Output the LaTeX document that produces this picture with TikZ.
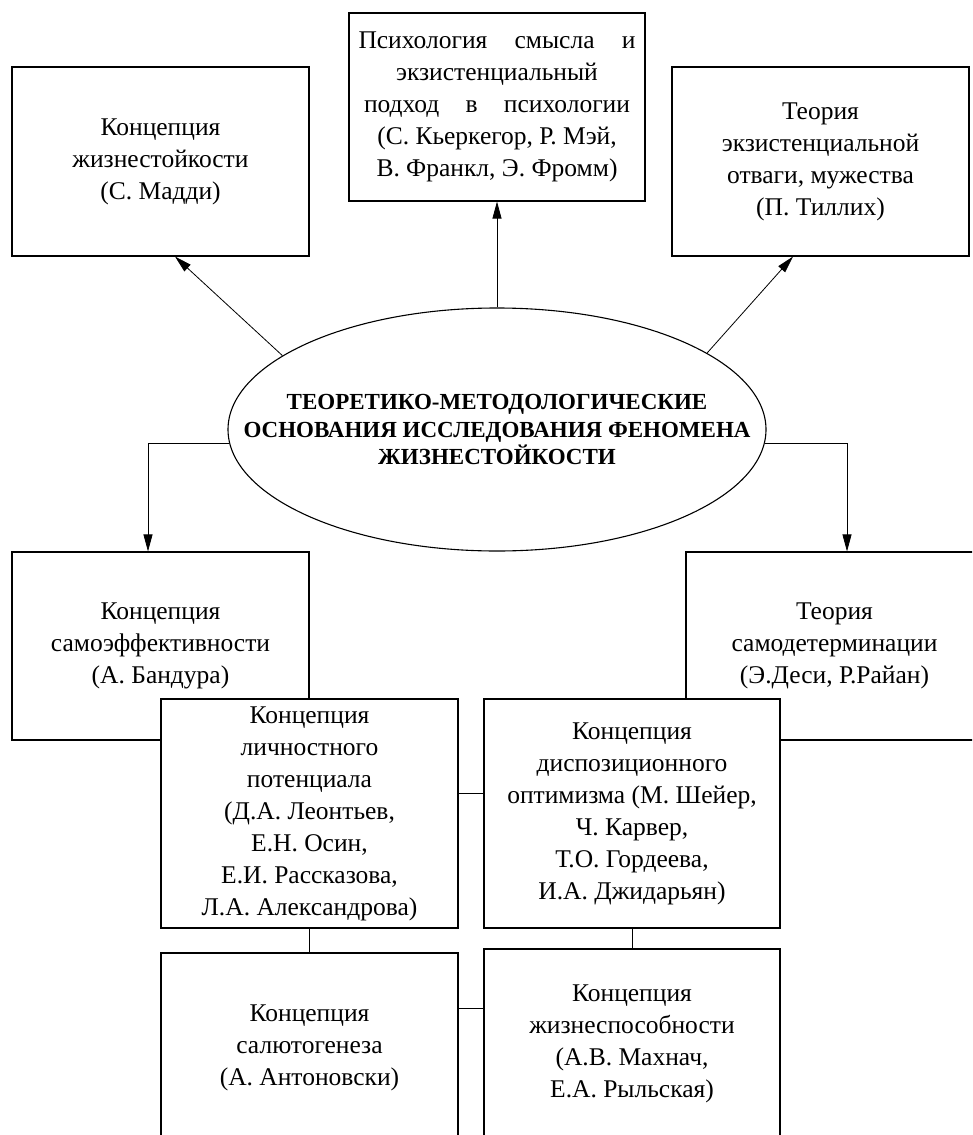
\documentclass[tikz,border=0pt]{standalone}
\usepackage{fontspec}
\setmainfont{Liberation Serif}
\usetikzlibrary{shapes.geometric,arrows.meta}

\begin{document}
\begin{tikzpicture}[x=1pt,y=-1pt,
    box/.style={rectangle,draw=black,line width=1.1pt,fill=white,align=center,inner sep=0pt,
      minimum width=297pt,minimum height=189pt,font=\fontsize{25.5}{32}\selectfont},
    arr/.style={->,>={Triangle[length=17pt,width=9pt]},line width=0.8pt}]

      \useasboundingbox (0,0) rectangle (972,1135);
      \clip (0,0) rectangle (972,1135);

      % upper row
      \node[box] (madd) at (160.5,161.5) {Концепция\\жизнестойкости\\(С. Мадди)};
      \node[box,minimum width=296pt,minimum height=188pt] (smysl) at (497,107)
        {\makebox[277pt][s]{Психология смысла и}\\экзистенциальный\\\makebox[266pt][s]{подход в психологии}\\(С. Кьеркегор, Р. Мэй,\\В. Франкл, Э. Фромм)};
      \node[box] (tillich) at (820.5,161.5) {Теория\\экзистенциальной\\отваги, мужества\\(П. Тиллих)};

      % centre
      \node[ellipse,draw=black,line width=1.1pt,fill=white,inner xsep=-70pt,inner ysep=0pt,align=center,
        minimum width=538pt,minimum height=243pt,font=\bfseries\fontsize{23}{27.5}\selectfont]
        (osnova) at (497,429.5) {ТЕОРЕТИКО-МЕТОДОЛОГИЧЕСКИЕ\\ОСНОВАНИЯ ИССЛЕДОВАНИЯ ФЕНОМЕНА\\ЖИЗНЕСТОЙКОСТИ};

      % middle row
      \node[box,minimum height=188pt] (bandura) at (160.5,646) {Концепция\\самоэффективности\\(А. Бандура)};
      \node[box,minimum height=188pt] (deci) at (834.5,646) {Теория\\самодетерминации\\(Э.Деси, Р.Райан)};

      % lower rows
      \node[box,minimum height=229pt] (leont) at (309.5,813.5)
        {Концепция\\личностного\\потенциала\\(Д.А. Леонтьев,\\Е.Н. Осин,\\Е.И. Рассказова,\\Л.А. Александрова)};
      \node[box,minimum width=296pt,minimum height=229pt] (optim) at (632,813.5)
        {Концепция\\диспозиционного\\оптимизма (М. Шейер,\\Ч. Карвер,\\Т.О. Гордеева,\\И.А. Джидарьян)};
      \node[box] (saluto) at (309.5,1047.5) {Концепция\\салютогенеза\\(А. Антоновски)};
      \node[box,minimum width=296pt] (makhn) at (632,1043.5) {Концепция\\жизнеспособности\\(А.В. Махнач,\\Е.А. Рыльская)};

      % arrows
      \draw[arr] (osnova.north) -- (smysl.south);
      \draw[arr] (osnova.161) -- ([xshift=14.5pt]madd.south);
      \draw[arr] (osnova.20) -- ([xshift=-27.5pt]tillich.south);
      \draw[arr] (osnova.183) -| ([xshift=-12.5pt]bandura.north);
      \draw[arr] (osnova.-3) -| ([xshift=12.5pt]deci.north);

      % links
      \draw[line width=0.8pt] ([yshift=20.5pt]leont.east) -- ([yshift=20.5pt]leont.east -| optim.west);
      \draw[line width=0.8pt] (leont.south) -- (saluto.north);
      \draw[line width=0.8pt] (optim.south) -- (makhn.north);
      \draw[line width=0.8pt] ([yshift=39.5pt]saluto.east) -- ([yshift=39.5pt]saluto.east -| makhn.west);

    \end{tikzpicture}
\end{document}
